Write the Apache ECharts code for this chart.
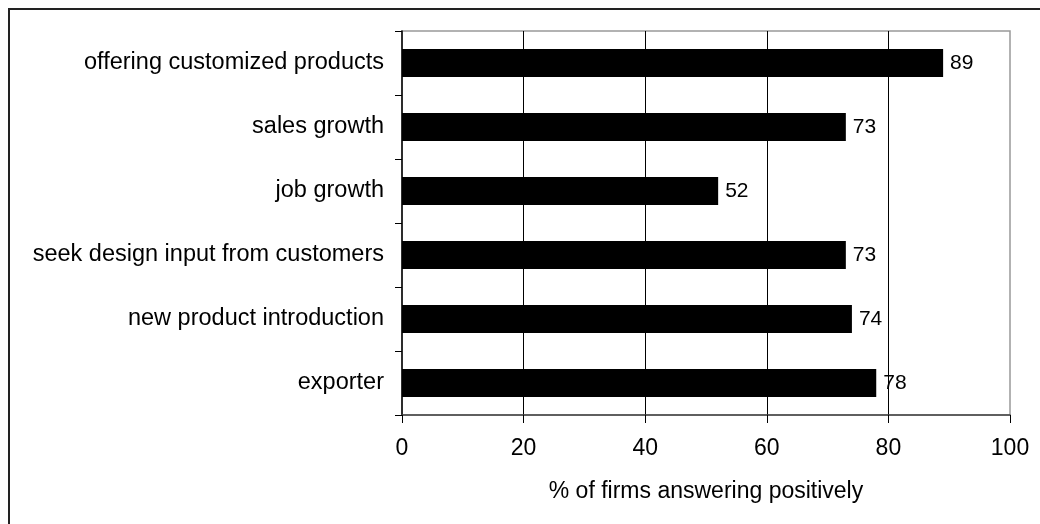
<!DOCTYPE html>
<html>
<head>
<meta charset="utf-8">
<script src="https://cdn.jsdelivr.net/npm/echarts@6/dist/echarts.min.js"></script>
<style>
  html, body { margin: 0; padding: 0; background: #fff; }
  #chart { width: 1040px; height: 524px; }
</style>
</head>
<body>
<div id="chart"></div>
<script>
// Survey responses, listed top to bottom
const categories = [
  'offering customized products',
  'sales growth',
  'job growth',
  'seek design input from customers',
  'new product introduction',
  'exporter'
];
const shareValues = [89, 73, 52, 73, 74, 78];
const xTicks = [0, 20, 40, 60, 80, 100];
const xAxisTitle = '% of firms answering positively';

const FONT = '"Liberation Sans", Arial, Helvetica, sans-serif';

const chart = echarts.init(document.getElementById('chart'), null, { renderer: 'canvas' });

chart.setOption({
  animation: false,
  backgroundColor: '#fff',
  textStyle: { fontFamily: FONT, color: '#000' },
  grid: {
    left: 402, right: 30, top: 31, bottom: 109,
    show: true, borderColor: '#999', borderWidth: 1.5,
    containLabel: false
  },
  graphic: [{
    type: 'rect',
    shape: { x: 9, y: 9, width: 1200, height: 700 },
    style: { fill: 'none', stroke: '#222', lineWidth: 2 },
    silent: true,
    z: 100
  }],
  xAxis: {
    type: 'value',
    min: xTicks[0],
    max: xTicks[xTicks.length - 1],
    interval: xTicks[1] - xTicks[0],
    name: xAxisTitle,
    nameLocation: 'middle',
    nameGap: 65,
    nameTextStyle: { fontFamily: FONT, fontSize: 23, color: '#000' },
    axisLine: { show: true, lineStyle: { color: '#444', width: 1.5 } },
    axisTick: { show: true, inside: false, length: 8, lineStyle: { color: '#000', width: 1 } },
    axisLabel: { fontFamily: FONT, fontSize: 23, color: '#000', margin: 22 },
    splitLine: { show: true, showMinLine: false, showMaxLine: false, lineStyle: { color: '#000', width: 1 } }
  },
  yAxis: {
    type: 'category',
    data: categories,
    inverse: true,
    axisLine: { show: true, lineStyle: { color: '#000', width: 1.5 } },
    axisTick: { show: true, inside: false, length: 7, alignWithLabel: false, lineStyle: { color: '#000', width: 1 } },
    axisLabel: { fontFamily: FONT, fontSize: 23.5, color: '#000', margin: 18 },
    splitLine: { show: false }
  },
  series: [{
    type: 'bar',
    data: shareValues,
    barWidth: 28,
    itemStyle: { color: '#000' },
    label: {
      show: true,
      position: 'right',
      distance: 7,
      fontFamily: FONT,
      fontSize: 21,
      color: '#000'
    }
  }]
});
</script>
</body>
</html>
